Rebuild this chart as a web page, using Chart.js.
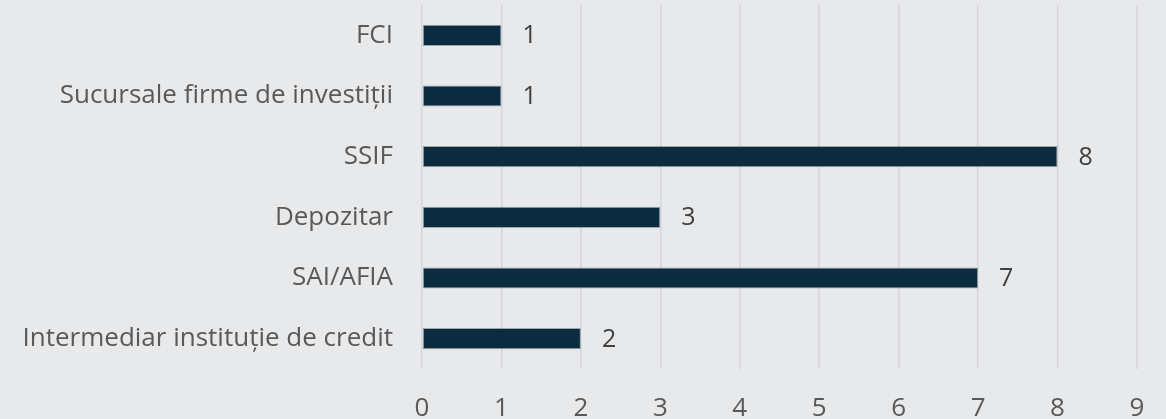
<!DOCTYPE html>
<html>
<head>
<meta charset="utf-8">
<script src="https://cdn.jsdelivr.net/npm/chart.js@4/dist/chart.umd.min.js"></script>
<style>
  html, body { margin: 0; padding: 0; background: #e8e9eb; }
  #wrap { width: 1166px; height: 419px; }
</style>
</head>
<body>
<div id="wrap"><canvas id="chart" width="1166" height="419"></canvas></div>
<script>
const categories = ['FCI', 'Sucursale firme de investiții', 'SSIF', 'Depozitar', 'SAI/AFIA', 'Intermediar instituție de credit'];
const values = [1, 1, 8, 3, 7, 2];
const xTicks = [0, 1, 2, 3, 4, 5, 6, 7, 8, 9];

const textColor = '#595959';
const fontFamily = '"Open Sans", Lato, sans-serif';

// value labels right of each bar
const barLabels = {
  id: 'barLabels',
  afterDatasetsDraw(chart) {
    const ctx = chart.ctx;
    const meta = chart.getDatasetMeta(0);
    ctx.save();
    ctx.fillStyle = '#404040';
    ctx.font = '25px ' + fontFamily;
    ctx.textAlign = 'left';
    ctx.textBaseline = 'middle';
    meta.data.forEach((bar, i) => {
      ctx.fillText(String(values[i]), bar.x + 21, bar.y + 1);
    });
    ctx.restore();
  }
};

new Chart(document.getElementById('chart'), {
  type: 'bar',
  data: {
    labels: categories,
    datasets: [{
      data: values,
      backgroundColor: '#0b2b3e',
      borderColor: '#52657280',
      borderWidth: 1,
      borderSkipped: false,
      barPercentage: 0.7,
      categoryPercentage: 0.5
    }]
  },
  options: {
    indexAxis: 'y',
    responsive: false,
    animation: false,
    layout: { padding: { top: 5, right: 29, left: 0, bottom: 0 } },
    plugins: {
      legend: { display: false },
      tooltip: { enabled: false }
    },
    scales: {
      x: {
        min: 0,
        max: 9,
        afterBuildTicks(axis) { axis.ticks = xTicks.map(v => ({ value: v })); },
        afterFit(axis) { axis.height = 50; axis.paddingLeft = 0; axis.paddingRight = 0; },
        grid: { color: '#d5d6d8', lineWidth: 1.5, drawTicks: false },
        border: { display: false },
        ticks: {
          color: textColor,
          padding: 24,
          font: { family: fontFamily, size: 26 }
        }
      },
      y: {
        afterFit(axis) { axis.width = 422; axis.paddingTop = 0; axis.paddingBottom = 0; },
        grid: { display: false },
        border: { display: false },
        ticks: {
          color: textColor,
          padding: 21,
          font: { family: fontFamily, size: 26 }
        }
      }
    }
  },
  plugins: [barLabels]
});
</script>
</body>
</html>
